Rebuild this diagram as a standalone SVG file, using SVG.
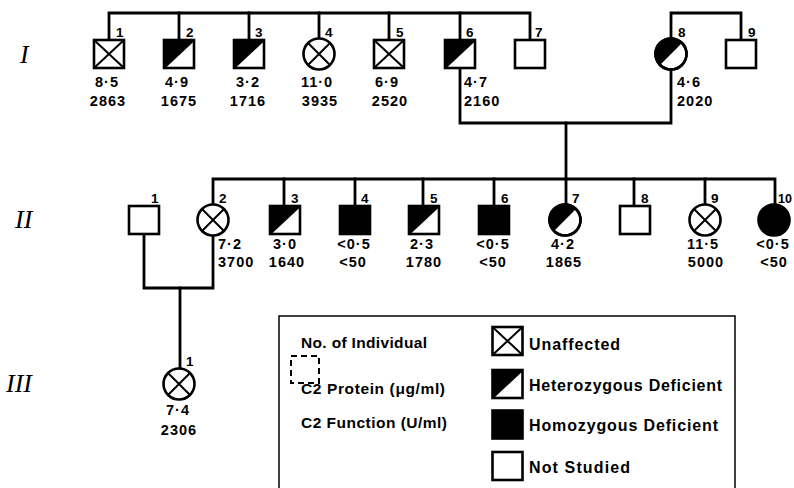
<svg xmlns="http://www.w3.org/2000/svg" xmlns:xlink="http://www.w3.org/1999/xlink" width="794" height="488" viewBox="0 0 794 488">
<style>
.ln{stroke:#000;stroke-width:2.8;fill:none;stroke-linecap:square}
.sym{stroke:#000;stroke-width:2.6;fill:#fff}
.x{stroke:#000;stroke-width:2}
.blk{fill:#000;stroke:#000;stroke-width:2.6}
.id{font-family:"Liberation Sans",Arial,sans-serif;font-weight:bold;font-size:13.5px}
.v{font-family:"Liberation Sans",Arial,sans-serif;font-weight:bold;font-size:14.5px;letter-spacing:1px;text-anchor:middle}
.vl{font-family:"Liberation Sans",Arial,sans-serif;font-weight:bold;font-size:14.5px;letter-spacing:1px}
.gen{font-family:"Liberation Serif","Times New Roman",serif;font-style:italic;font-size:26px}
.lg{font-family:"Liberation Sans",Arial,sans-serif;font-weight:bold;font-size:15.5px}
.lg2{font-family:"Liberation Sans",Arial,sans-serif;font-weight:bold;font-size:16px}
</style>
<defs>
<g id="sqU"><rect class="sym" x="-15" y="-14" width="30" height="28"/><path class="x" d="M-15,-14 L15,14 M15,-14 L-15,14"/></g>
<g id="sqH"><rect class="sym" x="-15" y="-14" width="30" height="28"/><path d="M-15,-14 H15 L-15,14 Z" fill="#000"/><path class="x" d="M-15,14 L15,-14"/></g>
<g id="sqA"><rect class="blk" x="-15" y="-14" width="30" height="28"/></g>
<g id="sqN"><rect class="sym" x="-15" y="-14" width="30" height="28"/></g>
<g id="ciU"><circle class="sym" r="15.5"/><path class="x" d="M-11,-11 L11,11 M11,-11 L-11,11"/></g>
<g id="ciH"><circle class="sym" r="15.5"/><path d="M-10.96,10.96 A15.5,15.5 0 0 1 10.96,-10.96 Z" fill="#000"/><circle r="15.5" fill="none" stroke="#000" stroke-width="2.6"/></g>
<g id="ciA"><circle class="blk" r="15.5"/></g>
</defs>

<g id="generations">
<text class="gen" x="20" y="63">I</text>
<text class="gen" x="15" y="228">II</text>
<text class="gen" x="6" y="392">III</text>
</g>

<g id="connectors">
<path class="ln" d="M109,40 V13 H530 V40"/>
<path class="ln" d="M179,13 V40 M249,13 V40 M319,13 V38.5 M389,13 V40 M460,13 V40"/>
<path class="ln" d="M671,38.5 V13 H741 V40"/>
<path class="ln" d="M460,68 V123 H671 V69.5"/>
<path class="ln" d="M566,123 V179"/>
<path class="ln" d="M213,204.5 V179 H775 V204.5"/>
<path class="ln" d="M284,179 V206 M355,179 V206 M423,179 V206 M494,179 V206 M566,179 V204.5 M634,179 V206 M705,179 V204.5"/>
<path class="ln" d="M144,234 V288 H213 V235.5"/>
<path class="ln" d="M180,288 V368.5"/>
</g>

<g id="I-1"><use xlink:href="#sqU" x="109" y="54"/><text class="id" x="116" y="37">1</text><text class="v" x="107" y="87">8·5</text><text class="v" x="108" y="106">2863</text></g>
<g id="I-2"><use xlink:href="#sqH" x="179" y="54"/><text class="id" x="186" y="37">2</text><text class="v" x="177" y="87">4·9</text><text class="v" x="179" y="106">1675</text></g>
<g id="I-3"><use xlink:href="#sqH" x="249" y="54"/><text class="id" x="255" y="37">3</text><text class="v" x="248" y="87">3·2</text><text class="v" x="248" y="106">1716</text></g>
<g id="I-4"><use xlink:href="#ciU" x="319" y="54"/><text class="id" x="325" y="37">4</text><text class="v" x="317" y="87">11·0</text><text class="v" x="320" y="106">3935</text></g>
<g id="I-5"><use xlink:href="#sqU" x="389" y="54"/><text class="id" x="396" y="37">5</text><text class="v" x="387" y="87">6·9</text><text class="v" x="390" y="106">2520</text></g>
<g id="I-6"><use xlink:href="#sqH" x="460" y="54"/><text class="id" x="466" y="37">6</text><text class="vl" x="464" y="87">4·7</text><text class="vl" x="464" y="106">2160</text></g>
<g id="I-7"><use xlink:href="#sqN" x="530" y="54"/><text class="id" x="535" y="37">7</text></g>
<g id="I-8"><use xlink:href="#ciH" x="671" y="54"/><text class="id" x="678" y="37">8</text><text class="vl" x="677" y="87">4·6</text><text class="vl" x="677" y="106">2020</text></g>
<g id="I-9"><use xlink:href="#sqN" x="741" y="54"/><text class="id" x="748" y="37">9</text></g>

<g id="II-1"><use xlink:href="#sqN" x="144" y="220"/><text class="id" x="151" y="203">1</text></g>
<g id="II-2"><use xlink:href="#ciU" x="213" y="220"/><text class="id" x="219" y="203">2</text><text class="vl" x="218" y="249">7·2</text><text class="vl" x="218" y="267">3700</text></g>
<g id="II-3"><use xlink:href="#sqH" x="285" y="220"/><text class="id" x="291" y="203">3</text><text class="v" x="285" y="249">3·0</text><text class="v" x="287" y="267">1640</text></g>
<g id="II-4"><use xlink:href="#sqA" x="355" y="220"/><text class="id" x="361" y="203">4</text><text class="v" x="354" y="249">&lt;0·5</text><text class="v" x="353" y="267">&lt;50</text></g>
<g id="II-5"><use xlink:href="#sqH" x="424" y="220"/><text class="id" x="430" y="203">5</text><text class="v" x="422" y="249">2·3</text><text class="v" x="424" y="267">1780</text></g>
<g id="II-6"><use xlink:href="#sqA" x="494" y="220"/><text class="id" x="501" y="203">6</text><text class="v" x="493" y="249">&lt;0·5</text><text class="v" x="493" y="267">&lt;50</text></g>
<g id="II-7"><use xlink:href="#ciH" x="565" y="220"/><text class="id" x="572" y="203">7</text><text class="v" x="563" y="249">4·2</text><text class="v" x="564" y="267">1865</text></g>
<g id="II-8"><use xlink:href="#sqN" x="635" y="220"/><text class="id" x="641" y="203">8</text></g>
<g id="II-9"><use xlink:href="#ciU" x="705" y="220"/><text class="id" x="711" y="203">9</text><text class="v" x="703" y="249">11·5</text><text class="v" x="706" y="267">5000</text></g>
<g id="II-10"><use xlink:href="#ciA" x="774" y="220"/><text class="id" x="778" y="203" style="font-size:12.5px">10</text><text class="v" x="773" y="249">&lt;0·5</text><text class="v" x="774" y="267">&lt;50</text></g>

<g id="III-1"><use xlink:href="#ciU" x="179" y="384"/><text class="id" x="186" y="366">1</text><text class="v" x="178" y="415">7·4</text><text class="v" x="179" y="435">2306</text></g>

<g id="legend">
<path d="M279,495 V316 H735 V495" fill="none" stroke="#000" stroke-width="1.5"/>
<text class="lg" x="301" y="348" textLength="126">No. of Individual</text>
<rect x="291" y="356" width="28" height="27" fill="none" stroke="#000" stroke-width="2" stroke-dasharray="6,4"/>
<text class="lg" x="301" y="394" textLength="144">C2 Protein (μg/ml)</text>
<text class="lg" x="301" y="428" textLength="146">C2 Function (U/ml)</text>
<use xlink:href="#sqU" x="507.5" y="341"/>
<text class="lg2" x="529" y="350" textLength="91">Unaffected</text>
<use xlink:href="#sqH" x="507.5" y="384"/>
<text class="lg2" x="529" y="391" textLength="193">Heterozygous Deficient</text>
<use xlink:href="#sqA" x="507.5" y="424.5"/>
<text class="lg2" x="529" y="431" textLength="189">Homozygous Deficient</text>
<use xlink:href="#sqN" x="507.5" y="466"/>
<text class="lg2" x="529" y="473" textLength="101">Not Studied</text>
</g>
</svg>
